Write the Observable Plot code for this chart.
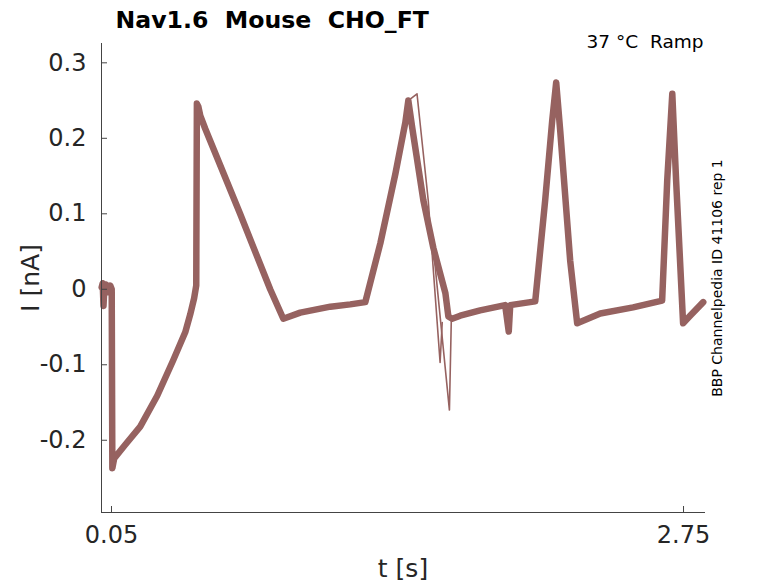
<!DOCTYPE html>
<html><head><meta charset="utf-8">
<script src="https://cdn.jsdelivr.net/npm/d3@7"></script>
<script src="https://cdn.jsdelivr.net/npm/@observablehq/plot@0.6"></script>
<style>body{margin:0;background:#fff} svg text{white-space:pre}</style>
</head><body><div id="chart"></div>
<script>
// main sweep (time in s, current in nA)
const tMain = [0.0037,0.0085,0.0122,0.0165,0.025,0.034,0.044,0.051,0.054,0.0627,0.1147,0.1855,0.2658,0.3413,0.398,0.4219,0.440,0.450,0.453,0.460,0.469,0.492,0.657,0.799,0.861,0.941,1.083,1.177,1.248,1.319,1.390,1.437,1.451,1.470,1.522,1.569,1.626,1.640,1.658,1.696,1.790,1.908,1.925,1.932,2.050,2.097,2.130,2.149,2.168,2.215,2.248,2.357,2.512,2.649,2.673,2.697,2.715,2.748,2.781,2.843];
const iMain = [0.0025,0.008,-0.022,0.003,0.006,-0.004,0.005,0.000,-0.237,-0.224,-0.206,-0.182,-0.141,-0.094,-0.057,-0.033,-0.012,0.005,0.246,0.242,0.230,0.213,0.100,0.000,-0.039,-0.031,-0.023,-0.020,-0.017,0.061,0.153,0.221,0.250,0.213,0.118,0.055,-0.005,-0.036,-0.039,-0.035,-0.028,-0.021,-0.056,-0.021,-0.016,0.118,0.223,0.274,0.210,0.038,-0.045,-0.032,-0.024,-0.015,0.144,0.259,0.144,-0.045,-0.035,-0.017];
// other sweeps diverging around the second ramp
const tSweepA = [1.451,1.492,1.545,1.601,1.611];
const iSweepA = [0.250,0.259,0.118,-0.097,-0.044];
const tSweepB = [1.569,1.645,1.654];
const iSweepB = [0.055,-0.160,-0.039];
const xTicks = [0.05, 2.75];
const yTicks = [-0.2, -0.1, 0, 0.1, 0.2, 0.3];
const title = "Nav1.6  Mouse  CHO_FT";
const condition = "37 °C  Ramp";
const source = "BBP Channelpedia ID 41106 rep 1";

const zip = (ts, is) => ts.map((t, k) => ({t, i: is[k]}));
const main = zip(tMain, iMain), sweepA = zip(tSweepA, iSweepA), sweepB = zip(tSweepB, iSweepB);

const W = 778, H = 583, mL = 101, mR = 74, mT = 43, mB = 71;
const innerW = W - mL - mR, innerH = H - mT - mB;
const col = "#966260", axisCol = "#444444", textCol = "#262626";

const chart = Plot.plot({
  width: W, height: H,
  marginLeft: mL, marginRight: mR, marginTop: mT, marginBottom: mB,
  style: {fontFamily: "DejaVu Sans", color: textCol, background: "#fff"},
  x: {domain: [0.0028, 2.849]},
  y: {domain: [-0.2957, 0.3256]},
  marks: [
    Plot.line(main, {x: "t", y: "i", stroke: col, strokeWidth: 6.5, strokeLinejoin: "round", strokeLinecap: "round"}),
    Plot.line(sweepA, {x: "t", y: "i", stroke: col, strokeWidth: 1.6, strokeLinejoin: "round"}),
    Plot.line(sweepB, {x: "t", y: "i", stroke: col, strokeWidth: 1.6, strokeLinejoin: "round"}),
    Plot.frame({anchor: "left", stroke: axisCol}),
    Plot.frame({anchor: "bottom", stroke: axisCol}),
    Plot.tickX(xTicks, {x: d => d, insetTop: innerH - 6, stroke: axisCol}),
    Plot.tickY(yTicks, {y: d => d, insetRight: innerW - 6, stroke: axisCol}),
    Plot.axisX(xTicks, {tickSize: 0, tickPadding: 13, fontSize: 24, tickFormat: d => d.toFixed(2), label: null}),
    Plot.axisY(yTicks, {tickSize: 0, tickPadding: 15, fontSize: 24, tickFormat: d => String(d), label: null}),
    Plot.text([title], {frameAnchor: "top-left", dx: 14, dy: -16, textAnchor: "start", lineAnchor: "bottom", fontSize: 23.6, fontWeight: "bold", fill: "#000"}),
    Plot.text([condition], {frameAnchor: "top-right", dx: -1, dy: 4, textAnchor: "end", lineAnchor: "bottom", fontSize: 18.5, fill: "#000"}),
    Plot.text(["t [s]"], {frameAnchor: "bottom", dy: 64, lineAnchor: "bottom", fontSize: 25, fill: textCol}),
    Plot.text(["I [nA]"], {frameAnchor: "left", dx: -71, rotate: -90, textAnchor: "middle", lineAnchor: "middle", fontSize: 25, fill: textCol}),
    Plot.text([source], {frameAnchor: "right", dx: 13, rotate: -90, textAnchor: "middle", lineAnchor: "middle", fontSize: 14, fill: "#000"})
  ]
});
document.getElementById("chart").appendChild(chart);
</script>
</body></html>
